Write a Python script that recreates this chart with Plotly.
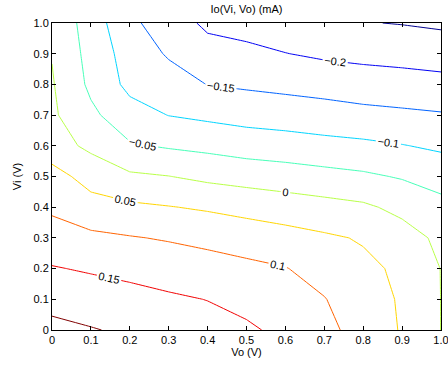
import plotly.graph_objects as go

# Grid axes
vo = [0.0, 0.1, 0.2, 0.3, 0.4, 0.5, 0.6, 0.7, 0.8, 0.9, 1.0]
vi = [0.0, 0.1, 0.2, 0.3, 0.4, 0.5, 0.6, 0.7, 0.8, 0.9, 1.0]

# Io values (mA) per Vo column, listed bottom (Vi=0) to top (Vi=1)
io_vo00 = [0.214, 0.183, 0.153, 0.122, 0.0915, 0.070, 0.020, 0.008, 0.004, -0.002, -0.010]
io_vo01 = [0.203, 0.174, 0.145, 0.110, 0.0696, 0.030, -0.010, -0.040, -0.060, -0.067, -0.073]
io_vo02 = [0.192, 0.166, 0.137, 0.103, 0.059, 0.008, -0.045, -0.080, -0.113, -0.122, -0.140]
io_vo03 = [0.180, 0.157, 0.128, 0.096, 0.052, 0.001, -0.055, -0.101, -0.129, -0.155, -0.174]
io_vo04 = [0.168, 0.149, 0.120, 0.0875, 0.044, -0.011, -0.0625, -0.110, -0.151, -0.180, -0.210]
io_vo05 = [0.158, 0.1345, 0.111, 0.078, 0.034, -0.019, -0.0725, -0.118, -0.157, -0.191, -0.214]
io_vo06 = [0.1375, 0.1196, 0.102, 0.068, 0.025, -0.026, -0.078, -0.123, -0.163, -0.199, -0.228]
io_vo07 = [0.1125, 0.102, 0.081, 0.057, 0.0167, -0.034, -0.085, -0.129, -0.169, -0.208, -0.237]
io_vo08 = [0.082, 0.071, 0.060, 0.046, 0.008, -0.042, -0.090, -0.136, -0.176, -0.213, -0.248]
io_vo09 = [0.046, 0.045, 0.042, 0.020, -0.0125, -0.054, -0.098, -0.141, -0.180, -0.217, -0.252]
io_vo10 = [-0.0005, -0.0005, -0.001, -0.010, -0.035, -0.070, -0.108, -0.146, -0.185, -0.222, -0.258]

columns = [io_vo00, io_vo01, io_vo02, io_vo03, io_vo04, io_vo05,
           io_vo06, io_vo07, io_vo08, io_vo09, io_vo10]
# z[row = Vi index][col = Vo index]
z = [[columns[i][j] for i in range(len(vo))] for j in range(len(vi))]

level_start = -0.25
level_end = 0.2
level_step = 0.05

tick_vals = [0.0, 0.1, 0.2, 0.3, 0.4, 0.5, 0.6, 0.7, 0.8, 0.9, 1.0]
tick_text = ["0", "0.1", "0.2", "0.3", "0.4", "0.5", "0.6", "0.7", "0.8", "0.9", "1.0"]

jet = [
    [0.0, "#00008F"],
    [0.125, "#0000FF"],
    [0.375, "#00FFFF"],
    [0.625, "#FFFF00"],
    [0.875, "#FF0000"],
    [1.0, "#800000"],
]

font_family = "Liberation Sans, Arial, Helvetica, sans-serif"

fig = go.Figure(
    go.Contour(
        x=vo,
        y=vi,
        z=z,
        colorscale=jet,
        showscale=False,
        autocontour=False,
        contours=dict(
            start=level_start,
            end=level_end,
            size=level_step,
            coloring="lines",
            showlabels=True,
            labelfont=dict(size=11, color="black", family=font_family),
            labelformat=".3~f",
        ),
        line=dict(width=1, smoothing=0),
        hoverinfo="skip",
    )
)

axis_common = dict(
    range=[0, 1],
    tickvals=tick_vals,
    ticktext=tick_text,
    ticks="inside",
    ticklen=4,
    tickwidth=1,
    tickcolor="black",
    showline=True,
    linecolor="black",
    linewidth=1,
    mirror="ticks",
    showgrid=False,
    zeroline=False,
    automargin=False,
    ticklabeloverflow="allow",
    tickfont=dict(size=11, color="black", family=font_family),
)

fig.update_xaxes(
    **axis_common,
    title=dict(text="Vo (V)", font=dict(size=11, color="black", family=font_family), standoff=2),
)
fig.update_yaxes(
    **axis_common,
    title=dict(text="Vi (V)", font=dict(size=11, color="black", family=font_family), standoff=9),
)

fig.update_layout(
    width=448,
    height=366,
    margin=dict(l=52, r=7, t=23, b=36, autoexpand=False),
    paper_bgcolor="white",
    plot_bgcolor="white",
    title=dict(
        text="Io(Vi, Vo) (mA)",
        x=0.5,
        xref="paper",
        xanchor="center",
        y=1 - 9 / 366,
        yref="container",
        yanchor="middle",
        font=dict(size=11, color="black", family=font_family),
    ),
    showlegend=False,
)

fig.write_html(
    "out.html",
    config={"displayModeBar": False},
    post_script="document.body.style.margin='0';document.body.style.overflow='hidden';",
)
